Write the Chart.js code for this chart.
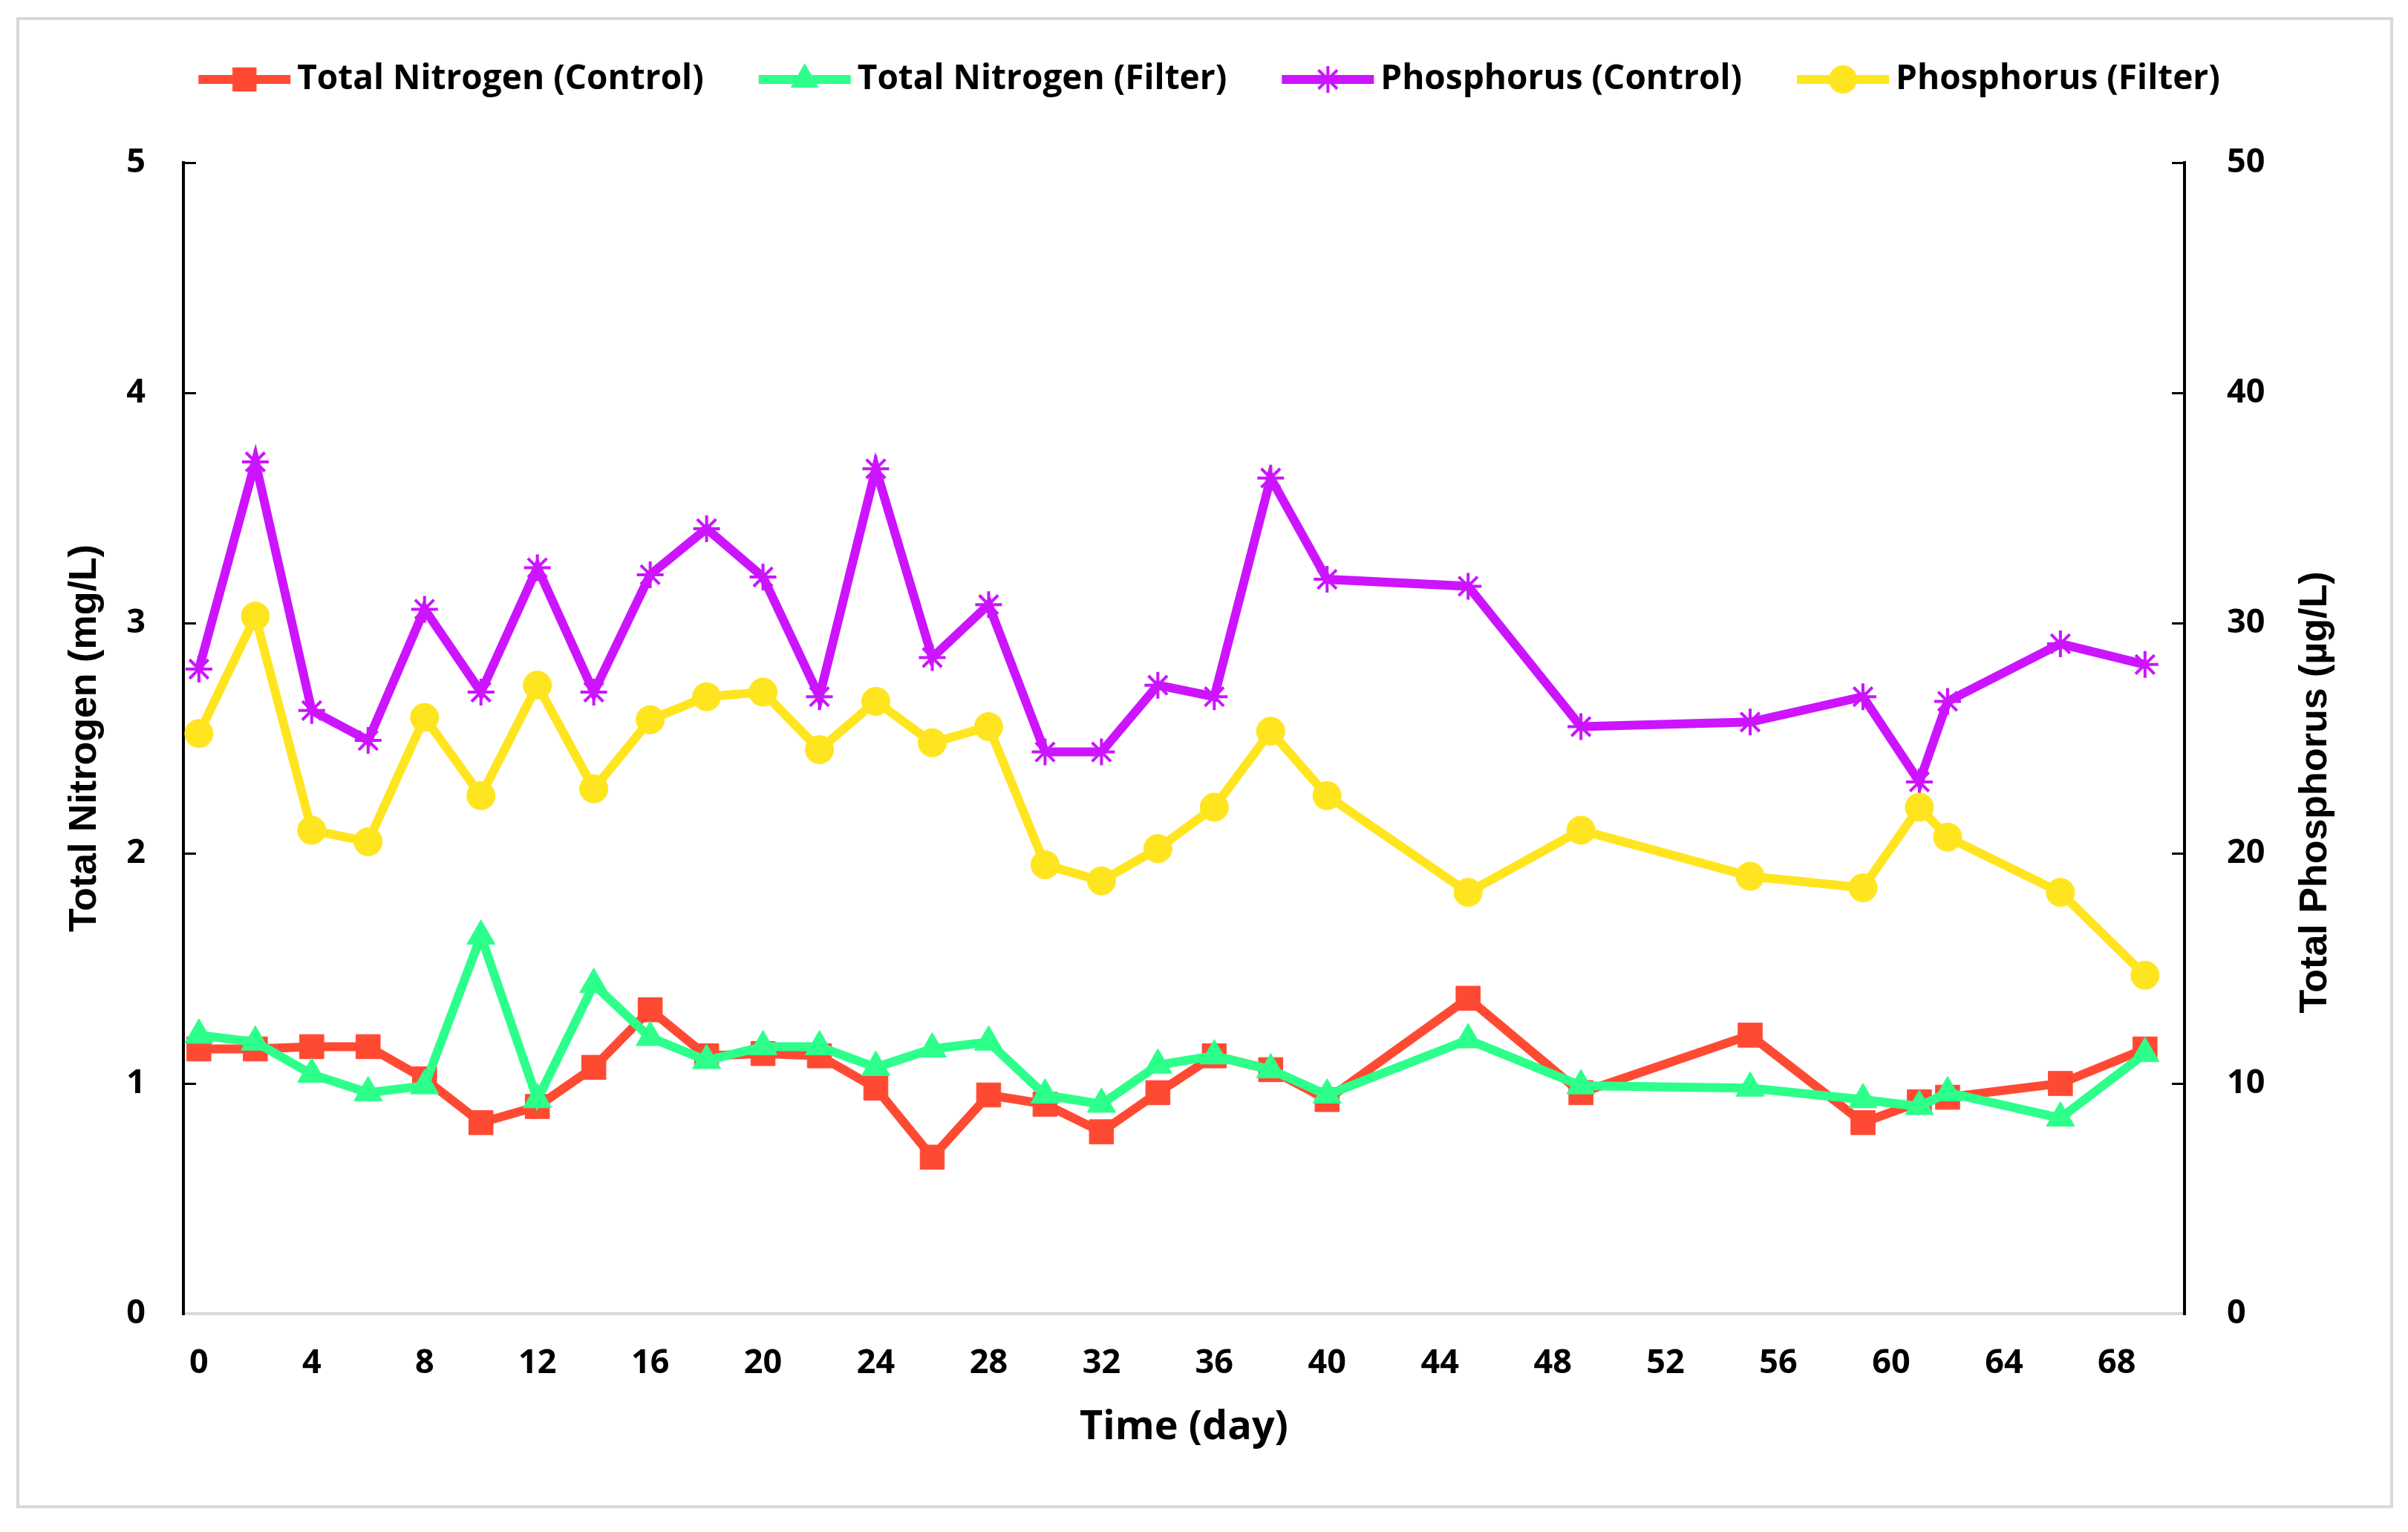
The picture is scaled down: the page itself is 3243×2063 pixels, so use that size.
<!DOCTYPE html>
<html>
<head>
<meta charset="utf-8">
<title>Nitrogen and phosphorus</title>
<script src="https://cdn.jsdelivr.net/npm/chart.js@4.4.1/dist/chart.umd.min.js"></script>
<style>
  html, body { margin: 0; padding: 0; background: #fff; }
  #wrap { position: relative; width: 3243px; height: 2063px; }
  #frame { position: absolute; left: 22px; top: 23px; width: 3201px; height: 2008px;
           border: 4px solid #d9d9d9; box-sizing: border-box; }
  #chart { position: absolute; left: 0; top: 0; }
</style>
</head>
<body>
<div id="wrap">
  <div id="frame"></div>
  <canvas id="chart" width="3243" height="2063"></canvas>
</div>
<script>
// data
const days = [0, 2, 4, 6, 8, 10, 12, 14, 16, 18, 20, 22, 24, 26, 28, 30, 32, 34, 36, 38, 40, 45, 49, 55, 59, 61, 62, 66, 69];
const tnControl = [1.15, 1.15, 1.16, 1.16, 1.02, 0.83, 0.90, 1.07, 1.32, 1.12, 1.13, 1.12, 0.98, 0.68, 0.95, 0.91, 0.79, 0.96, 1.12, 1.06, 0.93, 1.37, 0.96, 1.21, 0.83, 0.92, 0.94, 1.00, 1.15];
const tnFilter = [1.21, 1.18, 1.04, 0.96, 0.99, 1.64, 0.93, 1.43, 1.20, 1.10, 1.16, 1.16, 1.07, 1.15, 1.18, 0.95, 0.91, 1.08, 1.12, 1.06, 0.95, 1.19, 0.99, 0.98, 0.93, 0.90, 0.96, 0.85, 1.13];
const pControl = [28.0, 37.0, 26.2, 24.9, 30.6, 27.0, 32.4, 27.0, 32.1, 34.1, 32.0, 26.8, 36.7, 28.5, 30.8, 24.4, 24.4, 27.3, 26.8, 36.3, 31.9, 31.6, 25.5, 25.7, 26.8, 23.1, 26.6, 29.1, 28.2];
const pFilter = [25.2, 30.3, 21.0, 20.5, 25.9, 22.5, 27.3, 22.8, 25.8, 26.8, 27.0, 24.5, 26.6, 24.8, 25.5, 19.5, 18.8, 20.2, 22.0, 25.3, 22.5, 18.3, 21.0, 19.0, 18.5, 22.0, 20.7, 18.3, 14.7];

const seriesNames = ["Total Nitrogen (Control)", "Total Nitrogen (Filter)", "Phosphorus (Control)", "Phosphorus (Filter)"];
const seriesColors = ["#ff4a33", "#2dff8b", "#cc14ff", "#ffe51f"];
const seriesMarkers = ["rect", "triangle", "star", "circle"];
const markerRadius = [23, 22, 18, 19];

const xTitle = "Time (day)";
const yTitle = "Total Nitrogen (mg/L)";
const y1Title = "Total Phosphorus (\u00b5g/L)";

const tickFont = { family: "'Open Sans', sans-serif", weight: "bold", size: 45 };
const titleFont = { family: "'Liberation Sans', Arial, sans-serif", weight: "bold", size: 52 };

function toPoints(values) {
  return days.map((d, i) => ({ x: d, y: values[i] }));
}

// small line + marker picture for the legend, like the Excel one
function drawMarker(g, style, x, y, r) {
  g.beginPath();
  if (style === "rect") {
    const s = r * Math.SQRT2;
    g.rect(x - s / 2, y - s / 2, s, s);
    g.fill();
  } else if (style === "triangle") {
    for (let k = 0; k < 3; k++) {
      const a = k * 2 * Math.PI / 3;
      const px = x + Math.sin(a) * r, py = y - Math.cos(a) * r;
      if (k === 0) g.moveTo(px, py); else g.lineTo(px, py);
    }
    g.closePath();
    g.fill();
  } else if (style === "circle") {
    g.arc(x, y, r, 0, Math.PI * 2);
    g.fill();
  } else if (style === "star") {
    g.lineWidth = 4;
    for (let k = 0; k < 4; k++) {
      const a = k * Math.PI / 4;
      g.moveTo(x - Math.cos(a) * r, y - Math.sin(a) * r);
      g.lineTo(x + Math.cos(a) * r, y + Math.sin(a) * r);
    }
    g.stroke();
  }
}

// the icon is wider than the legend box so the line sits close to the text
const ICON_LINE = 124, ICON_SHIFT = 14;
function legendIcon(i) {
  const c = document.createElement("canvas");
  c.width = ICON_LINE + 4 * ICON_SHIFT;
  c.height = 52;
  const g = c.getContext("2d");
  const x0 = 3 * ICON_SHIFT; // line start inside canvas
  g.strokeStyle = seriesColors[i];
  g.fillStyle = seriesColors[i];
  g.lineWidth = 12;
  g.beginPath();
  g.moveTo(x0, 26);
  g.lineTo(x0 + ICON_LINE, 26);
  g.stroke();
  drawMarker(g, seriesMarkers[i], x0 + ICON_LINE / 2, 26, markerRadius[i]);
  return c;
}

// right axis title reads bottom to top in the reference
const rightTitle = {
  id: "rightTitle",
  afterDraw(chart) {
    const { ctx, chartArea } = chart;
    ctx.save();
    ctx.translate(chartArea.right + 177, (chartArea.top + chartArea.bottom) / 2 + 73);
    ctx.rotate(-Math.PI / 2);
    ctx.font = `bold ${titleFont.size}px ${titleFont.family}`;
    ctx.fillStyle = "#000";
    ctx.textAlign = "center";
    ctx.textBaseline = "middle";
    ctx.fillText(y1Title, 0, 0);
    ctx.restore();
  }
};

function makeDataset(i, values, axis, order) {
  return {
    label: seriesNames[i],
    data: toPoints(values),
    yAxisID: axis,
    order,
    borderColor: seriesColors[i],
    backgroundColor: seriesColors[i],
    borderWidth: 12,
    pointStyle: seriesMarkers[i],
    pointRadius: markerRadius[i],
    pointBorderWidth: seriesMarkers[i] === "star" ? 4 : 1,
    pointBackgroundColor: seriesColors[i],
    pointBorderColor: seriesColors[i],
    tension: 0
  };
}

function draw() {
  const icons = seriesNames.map((_, i) => legendIcon(i));

  new Chart(document.getElementById("chart"), {
    type: "line",
    data: {
      datasets: [
        makeDataset(0, tnControl, "y", 4),
        makeDataset(1, tnFilter, "y", 3),
        makeDataset(2, pControl, "y1", 2),
        makeDataset(3, pFilter, "y1", 1)
      ]
    },
    options: {
      responsive: false,
      animation: false,
      layout: { padding: { top: 24, left: 0, right: 0, bottom: 0 } },
      plugins: {
        tooltip: { enabled: false },
        legend: {
          position: "top",
          labels: {
            usePointStyle: true,
            pointStyleWidth: ICON_LINE,
            padding: 60,
            color: "#000",
            font: { family: "'Open Sans', sans-serif", weight: "bold", size: 46 },
            generateLabels: (chart) => chart.data.datasets.map((ds, i) => ({
              text: ds.label,
              pointStyle: icons[i],
              fontColor: "#000",
              fillStyle: "transparent",
              strokeStyle: "transparent",
              lineWidth: 0,
              hidden: false,
              datasetIndex: i
            }))
          }
        },
        // empty spacer between legend and plot
        subtitle: {
          display: true,
          text: "",
          position: "top",
          weight: 500,
          font: { size: 10 },
          padding: { top: 0, bottom: 67 }
        }
      },
      scales: {
        x: {
          type: "linear",
          min: -0.55,
          max: 70.4,
          ticks: { stepSize: 4, includeBounds: false, color: "#000", font: tickFont, padding: 40 },
          grid: { display: false, drawTicks: false },
          border: { display: true, color: "#d9d9d9", width: 4 },
          title: { display: true, text: xTitle, color: "#000",
                   font: { family: "'Open Sans', sans-serif", weight: "bold", size: 54 },
                   padding: { top: 0, bottom: 108 } },
          afterFit: (s) => { s.height = 294; }
        },
        y: {
          position: "left",
          min: 0,
          max: 5,
          ticks: { stepSize: 1, color: "#000", font: tickFont, padding: 68 },
          grid: { drawOnChartArea: false, color: "#000", lineWidth: 3, tickLength: -17 },
          border: { display: true, color: "#000", width: 4 },
          title: { display: true, text: yTitle, color: "#000", font: titleFont,
                   padding: { top: 83, bottom: 0 } },
          afterFit: (s) => { s.width = 247; }
        },
        y1: {
          position: "right",
          min: 0,
          max: 50,
          ticks: { stepSize: 10, color: "#000", font: tickFont, padding: 74 },
          grid: { drawOnChartArea: false, color: "#000", lineWidth: 3, tickLength: -17 },
          border: { display: true, color: "#000", width: 4 },
          afterFit: (s) => { s.width = 301; }
        }
      }
    },
    plugins: [rightTitle]
  });
}

Promise.all([
  document.fonts.load("bold 46px 'Open Sans'"),
  document.fonts.load("bold 52px 'Liberation Sans'")
]).then(draw, draw);
</script>
</body>
</html>
